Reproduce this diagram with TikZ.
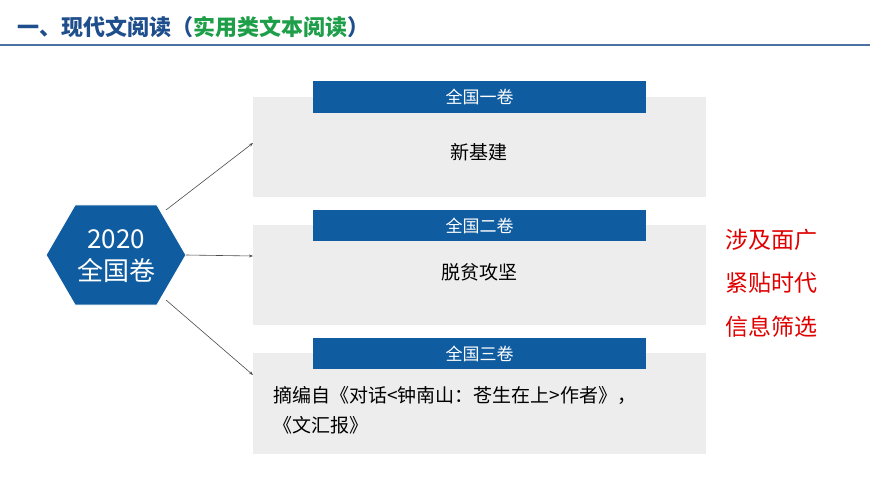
\documentclass[tikz,border=0pt]{standalone}
\usepackage{fontspec}
\usetikzlibrary{arrows.meta}
\setmainfont{Noto Sans CJK SC}
\definecolor{tblue}{HTML}{1F4E8C}
\definecolor{tgreen}{HTML}{1E9E48}
\definecolor{hblue}{HTML}{0F5CA0}
\definecolor{gbox}{HTML}{EDEDED}
\definecolor{rtxt}{HTML}{E00000}
\tikzset{
 graybox/.style={fill=gbox,draw=none},
 hbar/.style={fill=hblue,draw=none,text=white,font=\fontsize{17}{20}\selectfont},
 btext/.style={font=\fontsize{19}{30}\selectfont,text=black},
 rtext/.style={font=\fontsize{23}{26}\selectfont,text=rtxt,anchor=west},
 conn/.style={draw=black!70,line width=0.6pt,-{Stealth[length=4pt,width=3pt]}}
}
\begin{document}
\begin{tikzpicture}[x=1pt,y=-1pt]
\useasboundingbox (0,0) rectangle (870,489);
\fill[white] (0,0) rectangle (870,489);
\node[anchor=west,font=\fontsize{22}{26}\selectfont\bfseries,inner sep=0] (title) at (17,27)
 {\textcolor{tblue}{一、现代文阅读（}\textcolor{tgreen}{实用类文本阅读}\textcolor{tblue}{）}};
\draw[draw=tblue!80,line width=1.5pt] (0,45) -- (870,45);
\node[graybox,minimum width=453pt,minimum height=100pt,anchor=north west] (b1) at (253,97) {};
\node[graybox,minimum width=453pt,minimum height=100pt,anchor=north west] (b2) at (253,225) {};
\node[graybox,minimum width=453pt,minimum height=101pt,anchor=north west] (b3) at (253,353) {};
\node[hbar,minimum width=333pt,minimum height=32pt,anchor=north west] (h1) at (313,81) {全国一卷};
\node[hbar,minimum width=333pt,minimum height=31pt,anchor=north west] (h2) at (313,210) {全国二卷};
\node[hbar,minimum width=333pt,minimum height=31pt,anchor=north west] (h3) at (313,338) {全国三卷};
\node[btext] (t1) at (479,152) {新基建};
\node[btext] (t2) at (479,272) {脱贫攻坚};
\node[btext,anchor=north west,align=left,inner sep=0] (t3) at (273,386) {摘编自《对话<钟南山：苍生在上>作者》，\\《文汇报》};
\fill[hblue,draw=white,line width=1pt] (46,255) -- (75,205) -- (157,205) -- (186,255) -- (157,305) -- (75,305) -- cycle;
\node[text=white,font=\fontsize{26}{32}\selectfont,align=center] (hex) at (116,256) {2020\\全国卷};
\coordinate (p1) at (166,210);
\coordinate (p2) at (186,255);
\coordinate (p3) at (166,300);
\coordinate (e1) at (253,143);
\coordinate (e2) at (253,256);
\coordinate (e3) at (253,375);
\draw[conn] (p1) -- (e1);
\draw[conn] (p2) -- (e2);
\draw[conn] (p3) -- (e3);
\node[rtext] (r1) at (722,240) {涉及面广};
\node[rtext] (r2) at (722,283) {紧贴时代};
\node[rtext] (r3) at (722,327) {信息筛选};
\end{tikzpicture}
\end{document}
